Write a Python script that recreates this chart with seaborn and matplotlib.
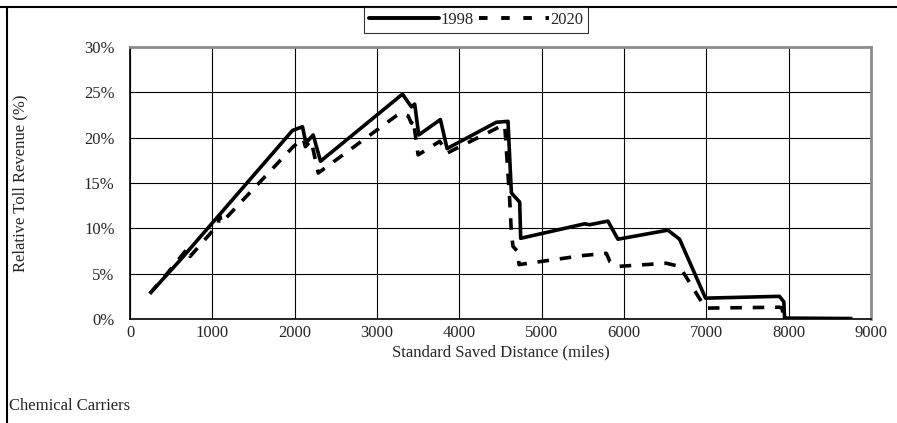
import numpy as np
import pandas as pd
import matplotlib.pyplot as plt
import seaborn as sns
from matplotlib.lines import Line2D

# values (distance in miles, revenue in %)
dist_1998 = [240, 500, 600, 1974, 2095, 2136, 2225, 2314, 3309, 3418, 3458, 3507,
             3770, 3851, 4450, 4591, 4632, 4733, 4745, 5522, 5583, 5805, 5926,
             6533, 6675, 6990, 7888, 7941, 7950, 8774]
rev_1998 = [2.8, 5.4, 6.4, 20.8, 21.2, 19.4, 20.3, 17.4, 24.8, 23.4, 23.7, 20.3,
            22.0, 18.8, 21.7, 21.8, 13.9, 12.9, 8.9, 10.5, 10.4, 10.8, 8.8,
            9.8, 8.8, 2.3, 2.5, 1.9, 0.1, 0.05]

dist_2020 = [240, 450, 700, 730, 1069, 1090, 1110, 1982, 2104, 2130, 2200, 2286,
             3277, 3378, 3418, 3440, 3499, 3762, 3851, 4490, 4551, 4612, 4632,
             4652, 4713, 4725, 5502, 5785, 5830, 5926, 6513, 6675, 6990, 7888,
             7920, 7941, 8774]
rev_2020 = [2.8, 5.0, 7.8, 6.9, 10.4, 11.4, 10.6, 19.0, 19.9, 19.0, 19.7, 16.1,
            22.7, 22.4, 21.6, 22.0, 18.1, 19.6, 18.3, 21.2, 21.4, 13.1, 9.5,
            8.0, 7.4, 6.0, 7.0, 7.25, 6.3, 5.8, 6.15, 5.8, 1.2, 1.3,
            1.2, 0.0, 0.0]

x_ticks = [0, 1000, 2000, 3000, 4000, 5000, 6000, 7000, 8000, 9000]
y_ticks = [0, 5, 10, 15, 20, 25, 30]

df = pd.concat([
    pd.DataFrame({"dist": dist_1998, "rev": rev_1998, "year": "1998"}),
    pd.DataFrame({"dist": dist_2020, "rev": rev_2020, "year": "2020"}),
])

sns.set_style("white")
plt.rcParams["font.family"] = ["Liberation Serif", "DejaVu Serif"]
plt.rcParams["font.size"] = 12

fig = plt.figure(figsize=(8.97, 4.23), dpi=100)
ax = fig.add_axes([130 / 897, 1 - 319 / 423, 741 / 897, 272 / 423])

sns.lineplot(data=df, x="dist", y="rev", hue="year", style="year",
             palette=["black", "black"], dashes=[(1, 0), (3.2, 3)],
             sort=False, estimator=None, linewidth=2.6, ax=ax, legend=False)

ax.set_xlim(0, 9000)
ax.set_ylim(0, 30)
ax.set_xticks(x_ticks)
ax.set_yticks(y_ticks)
ax.set_yticklabels([f"{v}%" for v in y_ticks])
ax.grid(True, color="black", linewidth=0.8)
ax.tick_params(axis="x", length=0, pad=4, labelsize=12)
ax.tick_params(axis="y", length=0, pad=11, labelsize=12)
for side in ["left", "bottom"]:
    ax.spines[side].set_color("black")
    ax.spines[side].set_linewidth(1.2)
for side in ["top", "right"]:
    ax.spines[side].set_color("#8c8c8c")
    ax.spines[side].set_linewidth(2)
ax.set_xlabel("Standard Saved Distance (miles)", fontsize=12)
ax.set_ylabel("Relative Toll Revenue (%)", fontsize=12)
ax.xaxis.set_label_coords(0.5, (319 - 344) / 272)
ax.yaxis.set_label_coords((28 - 130) / 741, 0.5)

handles = [Line2D([], [], color="black", linewidth=2.8),
           Line2D([], [], color="black", linewidth=2.8, dashes=(2.2, 3.5))]
leg = fig.legend(handles, ["1998", "2020"], ncol=2, loc="upper center",
                 bbox_to_anchor=(476 / 897, 1 - 7 / 423), frameon=True,
                 fancybox=False, handlelength=4.2, handletextpad=0.1,
                 columnspacing=0.3, borderpad=0.3, borderaxespad=0, fontsize=12)
leg.get_frame().set_edgecolor("black")
leg.get_frame().set_linewidth(0.8)

# figure frame (top and left only)
fig.add_artist(Line2D([0, 1], [1 - 7 / 423, 1 - 7 / 423], color="black", linewidth=1.5))
fig.add_artist(Line2D([7 / 897, 7 / 897], [0, 1 - 7 / 423], color="black", linewidth=1.5))

fig.text(9 / 897, 1 - 406 / 423, "Chemical Carriers", fontsize=12, va="center", ha="left")

fig.savefig("out.png", dpi=100)
